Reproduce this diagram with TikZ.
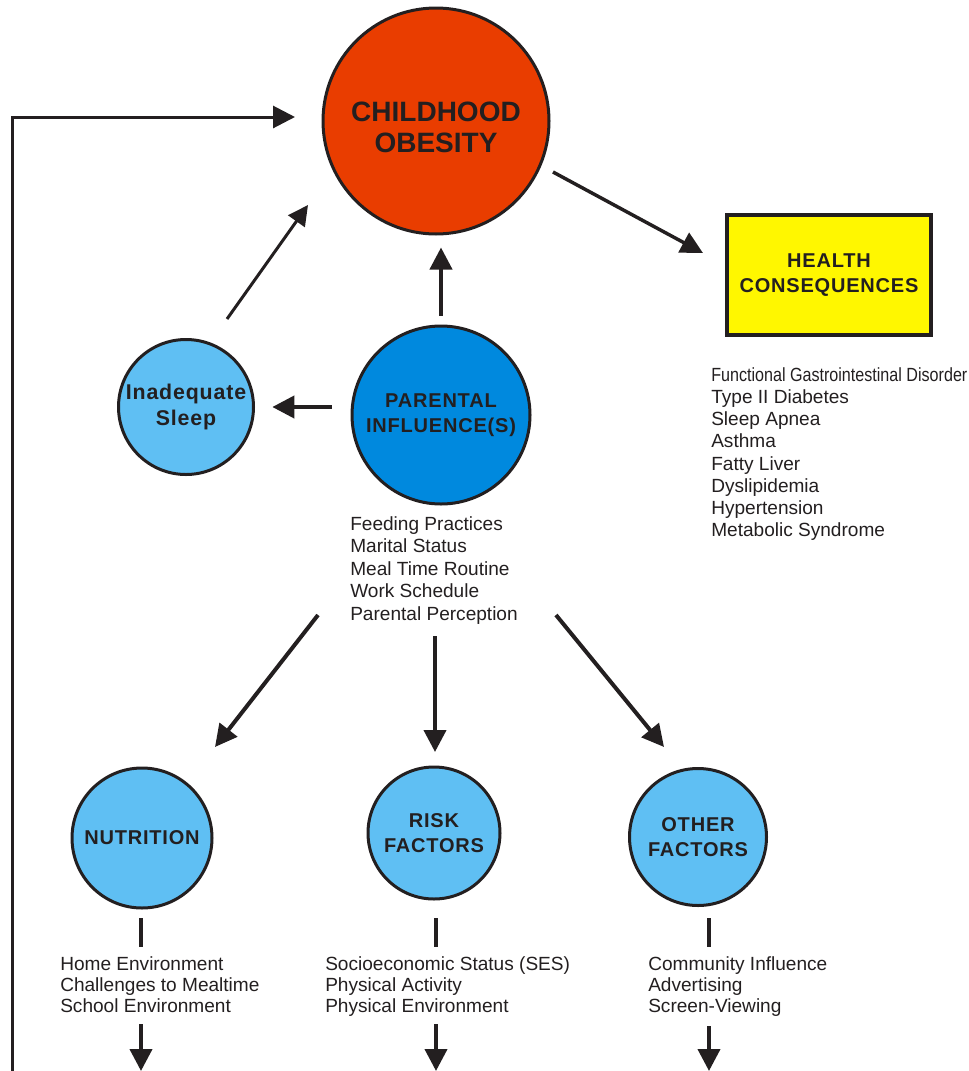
\documentclass[tikz,border=0pt]{standalone}
\usepackage{fontspec}
\setmainfont{Liberation Sans}
\newfontfamily\narrowfont[FakeStretch=0.845]{Liberation Sans}
\newfontfamily\spacedfont[LetterSpace=4]{Liberation Sans}
\usepackage{tikz}
\usetikzlibrary{arrows.meta}
\usetikzlibrary{positioning}

\definecolor{obesred}{RGB}{233,61,0}
\definecolor{parblue}{RGB}{0,137,222}
\definecolor{skyblue}{RGB}{95,191,243}
\definecolor{healthyel}{RGB}{255,247,0}
\definecolor{ink}{RGB}{35,31,32}

\begin{document}
\begin{tikzpicture}
    [
    x=0.75pt, y=-0.75pt,
    ball/.style={circle,draw=ink,line width=2.25pt,inner sep=0pt,text=ink,align=center},
    title/.style={font=\spacedfont\bfseries\fontsize{15}{19}\selectfont},
    list/.style={anchor=north west,inner sep=0pt,align=left,text=ink},
    arr/.style={-{Triangle[length=16.5pt,width=16.5pt]},line width=3pt,draw=ink},
    bar/.style={line width=3pt,draw=ink},
    ]
    \useasboundingbox (0,0) rectangle (969,1071);

    \node (obes) at (436,121) [ball,fill=obesred,minimum size=169.5pt,font=\bfseries\fontsize{21}{23.25}\selectfont] {\rule{0pt}{4.5pt}\\[-3pt]CHILDHOOD\\OBESITY};
    \node (health) at (829,275) [rectangle,draw=ink,line width=3pt,fill=healthyel,minimum width=153pt,minimum height=90pt,inner sep=0pt,align=center,text=ink,title] {HEALTH\\CONSEQUENCES};
    \node (par) at (441,415) [ball,fill=parblue,minimum size=133.5pt,title] {PARENTAL\\INFLUENCE(S)};
    \node (sleep) at (186,407) [ball,fill=skyblue,minimum size=101.25pt,font=\spacedfont\bfseries\fontsize{16}{19.5}\selectfont] {Inadequate\\Sleep};
    \node (nutr) at (142,838) [ball,fill=skyblue,minimum size=105pt,title] {NUTRITION};
    \node (risk) at (434,833) [ball,fill=skyblue,minimum size=99pt,title] {RISK\\FACTORS};
    \node (other) at (698,837) [ball,fill=skyblue,minimum size=102.75pt,title] {OTHER\\FACTORS};

    \node (hlist) at (711,367) [list,font=\fontsize{14.3}{16.7}\selectfont] {{\narrowfont Functional Gastrointestinal Disorder}\\Type II Diabetes\\Sleep Apnea\\Asthma\\Fatty Liver\\Dyslipidemia\\Hypertension\\Metabolic Syndrome};
    \node (parlist) at (350,516) [list,font=\fontsize{14.3}{16.9}\selectfont] {Feeding Practices\\Marital Status\\Meal Time Routine\\Work Schedule\\Parental Perception};
    \node (nutrlist) at (60,956) [list,font=\fontsize{14.3}{15.75}\selectfont] {Home Environment\\Challenges to Mealtime\\School Environment};
    \node (risklist) at (325,956) [list,font=\fontsize{14.3}{15.75}\selectfont] {Socioeconomic Status (SES)\\Physical Activity\\Physical Environment};
    \node (otherlist) at (648,956) [list,font=\fontsize{14.3}{15.75}\selectfont] {Community Influence\\Advertising\\Screen-Viewing};

    % feedback loop
    \coordinate (l1) at (12,1071);
    \coordinate (l2) at (295,117);
    \draw [arr,line width=2.25pt] (l1) |- (l2);

    \coordinate (s1) at (227,319);
    \coordinate (s2) at (308,205);
    \draw [arr,line width=2.25pt,-{Triangle[length=15pt,width=15pt]}] (s1) to (s2);
    \draw [arr,shorten <=6.75pt,shorten >=9pt] (par.north) to (par.north |- obes.south);
    \draw [arr,shorten <=14.25pt,shorten >=13pt] (sleep.east -| par.west) to (sleep.east);

    \coordinate (h1) at (553,172);
    \coordinate (h2) at (703,253);
    \draw [arr,line width=2.6pt] (h1) to (h2);

    \coordinate (p1) at (318,615);
    \coordinate (p2) at (215,747);
    \coordinate (p3) at (435,636);
    \coordinate (p4) at (435,752);
    \coordinate (p5) at (556,615);
    \coordinate (p6) at (664,747);
    \draw [arr] (p1) to (p2);
    \draw [arr] (p3) to (p4);
    \draw [arr] (p5) to (p6);

    \coordinate (b1) at (141,918);
    \coordinate (b2) at (141,947);
    \coordinate (b3) at (436,918);
    \coordinate (b4) at (436,947);
    \coordinate (b5) at (709,918);
    \coordinate (b6) at (709,947);
    \draw [bar] (b1) to (b2);
    \draw [bar] (b3) to (b4);
    \draw [bar] (b5) to (b6);

    \coordinate (d1) at (141,1024);
    \coordinate (d2) at (141,1071);
    \coordinate (d3) at (436,1024);
    \coordinate (d4) at (436,1071);
    \coordinate (d5) at (709,1026);
    \coordinate (d6) at (709,1071);
    \draw [arr] (d1) to (d2);
    \draw [arr] (d3) to (d4);
    \draw [arr] (d5) to (d6);
  \end{tikzpicture}
\end{document}
